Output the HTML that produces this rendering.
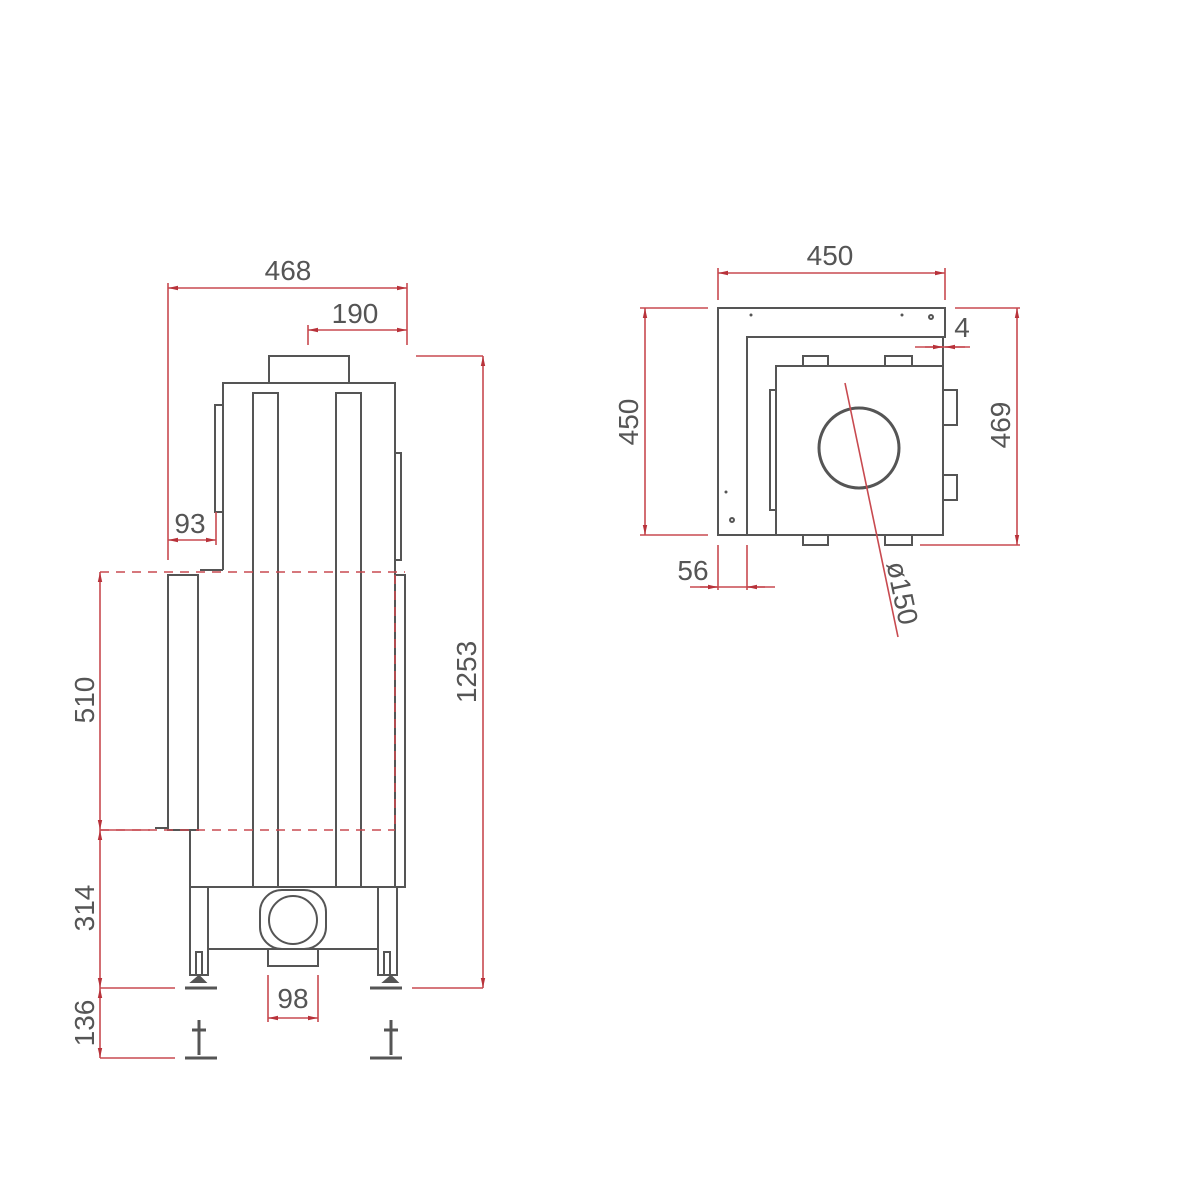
<!DOCTYPE html>
<html><head><meta charset="utf-8"><style>html,body{margin:0;padding:0;background:#fff}svg{display:block}</style></head>
<body>
<svg width="1200" height="1200" viewBox="0 0 1200 1200" xmlns="http://www.w3.org/2000/svg" font-family="Liberation Sans, sans-serif">
<defs>
<marker id="a" viewBox="0 0 10 6" refX="10" refY="3" markerWidth="10" markerHeight="6" orient="auto-start-reverse" markerUnits="userSpaceOnUse"><path d="M10,3 L0,0.8 L0,5.2 Z" fill="#b8323a"/></marker>
</defs>
<rect width="1200" height="1200" fill="#fff"/>
<g stroke="#555" stroke-width="2" fill="none">
<rect x="269" y="356" width="80" height="27"/>
<path d="M223,570 V383 H395 V887"/>
<rect x="253" y="393" width="25" height="494"/>
<rect x="336" y="393" width="25" height="494"/>
<rect x="215" y="405" width="8" height="107"/>
<rect x="395" y="453" width="6" height="107"/>
<path d="M223,570 H200"/>
<rect x="168" y="575" width="30" height="255"/>
<path d="M155,828 H168"/>
<path d="M190,830 V887 H405 V575 H395"/>
<rect x="190" y="887" width="18" height="88"/>
<rect x="378" y="887" width="19" height="88"/>
<path d="M208,949 H378"/>
<rect x="260" y="890" width="66" height="59" rx="22"/>
<circle cx="293" cy="920" r="24"/>
<rect x="268" y="949" width="50" height="17"/>
<rect x="196" y="952" width="6" height="23"/>
<rect x="384" y="952" width="6" height="23"/>
<path d="M192,982 L199,976 L205,982 Z M384,982 L391,976 L397,982 Z" fill="#555"/>
<path d="M185,988 H217 M370,988 H402" stroke-width="3"/>
<path d="M199,1020 V1055 M192,1030 H206 M391,1020 V1055 M384,1030 H398" stroke-width="3"/>
<path d="M185,1058 H217 M370,1058 H402" stroke-width="3"/>
</g>
<g stroke="#c84a50" stroke-width="1.6" fill="none">
<path d="M168,283 V560 M407,283 V345 M308,325 V345 M216,512 V545"/>
<line x1="168" y1="288" x2="407" y2="288" marker-start="url(#a)" marker-end="url(#a)"/>
<line x1="308" y1="330" x2="407" y2="330" marker-start="url(#a)" marker-end="url(#a)"/>
<line x1="168" y1="540" x2="216" y2="540" marker-start="url(#a)" marker-end="url(#a)"/>
<path d="M416,356 H483 M412,988 H483"/>
<line x1="483" y1="356" x2="483" y2="988" marker-start="url(#a)" marker-end="url(#a)"/>
<path d="M100,572 H405 M100,830 H395 M395,575 V830" stroke-dasharray="9,7"/>
<path d="M100,830 H150 M100,988 H175 M100,1058 H175"/>
<line x1="100" y1="572" x2="100" y2="830" marker-start="url(#a)" marker-end="url(#a)"/>
<line x1="100" y1="830" x2="100" y2="988" marker-start="url(#a)" marker-end="url(#a)"/>
<line x1="100" y1="988" x2="100" y2="1058" marker-start="url(#a)" marker-end="url(#a)"/>
<path d="M268,975 V1022 M318,975 V1022"/>
<line x1="268" y1="1018" x2="318" y2="1018" marker-start="url(#a)" marker-end="url(#a)"/>
</g>
<g fill="#555" font-size="28" text-anchor="middle">
<text x="288" y="280">468</text>
<text x="355" y="323">190</text>
<text x="190" y="533">93</text>
<text x="293" y="1008">98</text>
<text transform="translate(94,700) rotate(-90)">510</text>
<text transform="translate(94,908) rotate(-90)">314</text>
<text transform="translate(94,1023) rotate(-90)">136</text>
<text transform="translate(476,672) rotate(-90)">1253</text>
</g>
<g stroke="#555" stroke-width="2" fill="none">
<path d="M718,308 H945 V337 H747 V535 H718 Z"/>
<path d="M747,535 H943 V337"/>
<rect x="776" y="366" width="167" height="169"/>
<rect x="803" y="356" width="25" height="10"/>
<rect x="885" y="356" width="27" height="10"/>
<rect x="803" y="535" width="25" height="10"/>
<rect x="885" y="535" width="27" height="10"/>
<rect x="770" y="390" width="6" height="120"/>
<rect x="943" y="390" width="14" height="35"/>
<rect x="943" y="475" width="14" height="25"/>
<circle cx="859" cy="448" r="40" stroke-width="3"/>
<circle cx="732" cy="520" r="2"/>
<circle cx="931" cy="317" r="2"/>
</g>
<g fill="#555"><circle cx="751" cy="315" r="1.5"/><circle cx="902" cy="315" r="1.5"/><circle cx="726" cy="492" r="1.5"/></g>
<g stroke="#c84a50" stroke-width="1.6" fill="none">
<path d="M718,268 V300 M945,268 V300"/>
<line x1="718" y1="273" x2="945" y2="273" marker-start="url(#a)" marker-end="url(#a)"/>
<path d="M640,308 H708 M640,535 H708"/>
<line x1="645" y1="308" x2="645" y2="535" marker-start="url(#a)" marker-end="url(#a)"/>
<path d="M955,308 H1020 M920,545 H1020"/>
<line x1="1017" y1="308" x2="1017" y2="545" marker-start="url(#a)" marker-end="url(#a)"/>
<path d="M915,347 H970"/>
<line x1="925" y1="347" x2="943" y2="347" marker-end="url(#a)"/>
<line x1="965" y1="347" x2="945" y2="347" marker-end="url(#a)"/>
<path d="M718,545 V590 M747,545 V590 M690,587 H775"/>
<line x1="700" y1="587" x2="718" y2="587" marker-end="url(#a)"/>
<line x1="765" y1="587" x2="747" y2="587" marker-end="url(#a)"/>
<line x1="845" y1="383" x2="898" y2="637"/>
</g>
<g fill="#555" font-size="28" text-anchor="middle">
<text x="830" y="265">450</text>
<text x="962" y="337">4</text>
<text x="693" y="580">56</text>
<text transform="translate(638,422) rotate(-90)">450</text>
<text transform="translate(1010,425) rotate(-90)">469</text>
<text transform="translate(893,595) rotate(78)">ø150</text>
</g>
</svg>
</body></html>
